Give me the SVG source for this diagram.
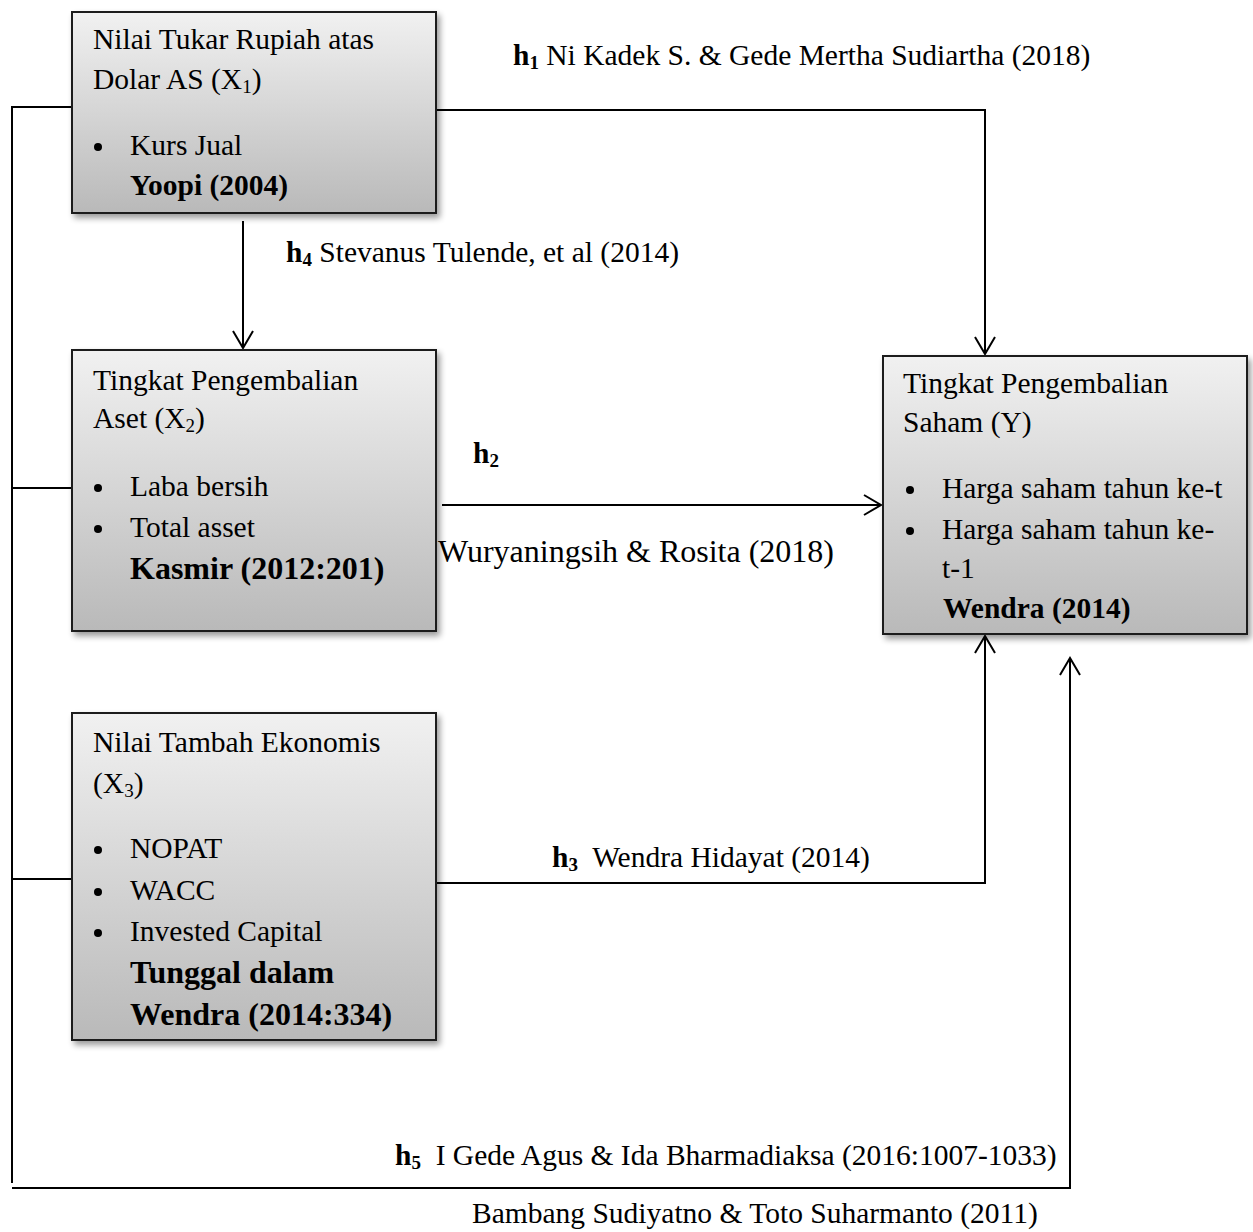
<svg xmlns="http://www.w3.org/2000/svg" width="1253" height="1232" viewBox="0 0 1253 1232">
<defs>
<linearGradient id="g" x1="0" y1="0" x2="0" y2="1">
<stop offset="0" stop-color="#f1f1f1"/>
<stop offset="1" stop-color="#b9b9b9"/>
</linearGradient>
<filter id="sh" x="-10%" y="-10%" width="130%" height="130%">
<feGaussianBlur in="SourceAlpha" stdDeviation="3"/>
<feOffset dx="3" dy="4" result="b"/>
<feComponentTransfer><feFuncA type="linear" slope="0.4"/></feComponentTransfer>
<feMerge><feMergeNode/><feMergeNode in="SourceGraphic"/></feMerge>
</filter>
<marker id="arr" markerWidth="24" markerHeight="24" refX="20" refY="12" orient="auto" markerUnits="userSpaceOnUse">
<path d="M3,2 L20,12 L3,22" fill="none" stroke="#000" stroke-width="2"/>
</marker>
</defs>
<style>
.box{fill:url(#g);stroke:#1a1a1a;stroke-width:2;filter:url(#sh)}
.t{font-family:"Liberation Serif","Times New Roman",serif;font-size:29.5px;fill:#000}
.b{font-weight:bold}
.big{font-size:32px}
.sub{font-size:19px}
.ln{fill:none;stroke:#000;stroke-width:2}
.dot{fill:#000}
</style>
<rect width="1253" height="1232" fill="#fff"/>
<g id="connectors">
<polyline class="ln" points="72,107 12,107 12,1183"/>
<line class="ln" x1="12" y1="488" x2="72" y2="488"/>
<line class="ln" x1="12" y1="879" x2="72" y2="879"/>
<polyline class="ln" points="436,110 985,110 985,354" marker-end="url(#arr)"/>
<line class="ln" x1="243" y1="221" x2="243" y2="348" marker-end="url(#arr)"/>
<line class="ln" x1="442" y1="505" x2="881" y2="505" marker-end="url(#arr)"/>
<polyline class="ln" points="436,883 985,883 985,636" marker-end="url(#arr)"/>
<line class="ln" x1="12" y1="1188" x2="1071" y2="1188"/>
<line class="ln" x1="1070" y1="1187" x2="1070" y2="658" marker-end="url(#arr)"/>
</g>
<g id="labels">
<text class="t" x="513" y="65"><tspan class="b">h<tspan class="sub" dy="4">1</tspan></tspan><tspan dy="-4"> Ni Kadek S. &amp; Gede Mertha Sudiartha (2018)</tspan></text>
<text class="t" x="286" y="262"><tspan class="b">h<tspan class="sub" dy="4">4</tspan></tspan><tspan dy="-4"> Stevanus Tulende, et al (2014)</tspan></text>
<text class="t b" x="473" y="463">h<tspan class="sub" dy="4">2</tspan></text>
<text class="t big" x="438" y="562">Wuryaningsih &amp; Rosita (2018)</text>
<text class="t" x="552" y="867"><tspan class="b">h<tspan class="sub" dy="4">3</tspan></tspan><tspan dy="-4" xml:space="preserve">  Wendra Hidayat (2014)</tspan></text>
<text class="t" x="395" y="1165"><tspan class="b">h<tspan class="sub" dy="4">5</tspan></tspan><tspan dy="-4" xml:space="preserve">  I Gede Agus &amp; Ida Bharmadiaksa (2016:1007-1033)</tspan></text>
<text class="t" x="472" y="1223">Bambang Sudiyatno &amp; Toto Suharmanto (2011)</text>
</g>
<g id="x1">
<rect class="box" x="72" y="12" width="364" height="201"/>
<text class="t" x="93" y="49">Nilai Tukar Rupiah atas</text>
<text class="t" x="93" y="89">Dolar AS (X<tspan class="sub" dy="4">1</tspan><tspan dy="-4">)</tspan></text>
<circle class="dot" cx="98" cy="147" r="4"/>
<text class="t" x="130" y="155">Kurs Jual</text>
<text class="t b" x="130" y="195">Yoopi (2004)</text>
</g>
<g id="x2">
<rect class="box" x="72" y="350" width="364" height="281"/>
<text class="t" x="93" y="390">Tingkat Pengembalian</text>
<text class="t" x="93" y="428">Aset (X<tspan class="sub" dy="4">2</tspan><tspan dy="-4">)</tspan></text>
<circle class="dot" cx="98" cy="488" r="4"/>
<text class="t" x="130" y="496">Laba bersih</text>
<circle class="dot" cx="98" cy="529" r="4"/>
<text class="t" x="130" y="537">Total asset</text>
<text class="t b big" x="130" y="579">Kasmir (2012:201)</text>
</g>
<g id="x3">
<rect class="box" x="72" y="713" width="364" height="327"/>
<text class="t" x="93" y="752">Nilai Tambah Ekonomis</text>
<text class="t" x="93" y="793">(X<tspan class="sub" dy="4">3</tspan><tspan dy="-4">)</tspan></text>
<circle class="dot" cx="98" cy="850" r="4"/>
<text class="t" x="130" y="858">NOPAT</text>
<circle class="dot" cx="98" cy="892" r="4"/>
<text class="t" x="130" y="900">WACC</text>
<circle class="dot" cx="98" cy="933" r="4"/>
<text class="t" x="130" y="941">Invested Capital</text>
<text class="t b big" x="130" y="983">Tunggal dalam</text>
<text class="t b big" x="130" y="1025">Wendra (2014:334)</text>
</g>
<g id="y">
<rect class="box" x="883" y="356" width="364" height="278"/>
<text class="t" x="903" y="393">Tingkat Pengembalian</text>
<text class="t" x="903" y="432">Saham (Y)</text>
<circle class="dot" cx="910" cy="490" r="4"/>
<text class="t" x="942" y="498">Harga saham tahun ke-t</text>
<circle class="dot" cx="910" cy="531" r="4"/>
<text class="t" x="942" y="539">Harga saham tahun ke-</text>
<text class="t" x="942" y="578">t-1</text>
<text class="t b" x="943" y="618">Wendra (2014)</text>
</g>
</svg>
